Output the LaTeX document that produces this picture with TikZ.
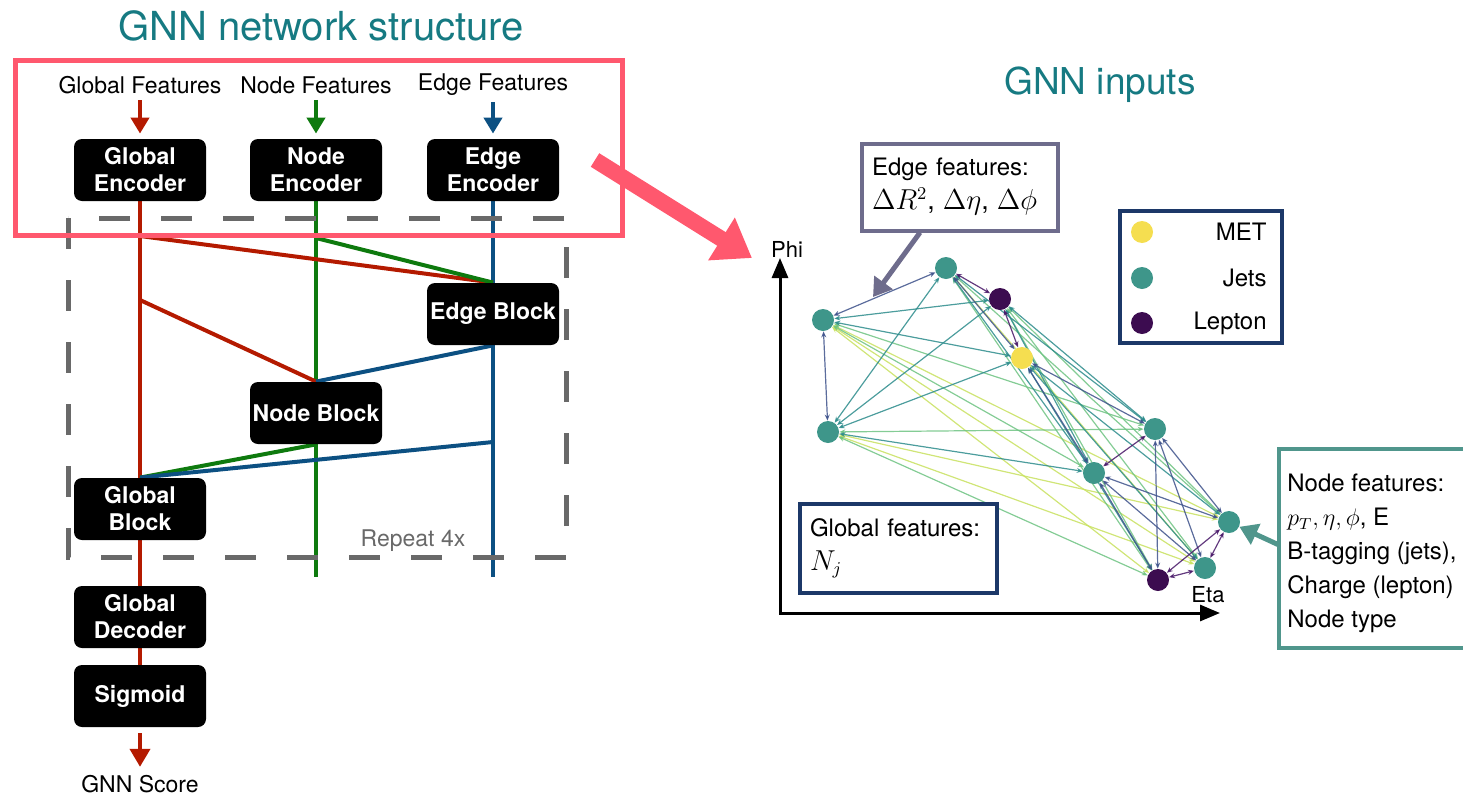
\documentclass[tikz,border=0pt]{standalone}
\usepackage{fontspec}
\setmainfont{TeX Gyre Heros}
\usetikzlibrary{arrows.meta,backgrounds}
\definecolor{ttlcol}{RGB}{22,122,130}
\definecolor{boxred}{RGB}{255,88,110}
\definecolor{lnred}{RGB}{180,26,0}
\definecolor{lngreen}{RGB}{14,122,14}
\definecolor{lnblue}{RGB}{12,80,130}
\definecolor{rptgray}{RGB}{105,105,105}
\definecolor{efcol}{RGB}{110,108,140}
\definecolor{navy}{RGB}{28,56,104}
\definecolor{nfcol}{RGB}{80,150,140}
\definecolor{metcol}{RGB}{245,222,80}
\definecolor{jetcol}{RGB}{62,150,138}
\definecolor{lepcol}{RGB}{60,12,80}
\definecolor{ec1}{RGB}{72,24,104}
\definecolor{ec2}{RGB}{62,82,139}
\definecolor{ec3}{RGB}{45,140,140}
\definecolor{ec4}{RGB}{110,195,130}
\definecolor{ec5}{RGB}{200,225,95}
\tikzset{
  blk/.style={fill=black, rounded corners=4pt, minimum width=66pt, minimum height=31pt, inner sep=0pt, text=white, align=center, font=\fontsize{11.5}{13.5}\selectfont\bfseries},
  feat/.style={font=\fontsize{11.5}{14}\selectfont, inner sep=0pt},
  ttl/.style={text=ttlcol, font=\fontsize{20}{24}\selectfont, inner sep=0pt},
  rtxt/.style={font=\fontsize{12}{17}\selectfont, inner sep=0pt},
  redln/.style={lnred, line width=2pt},
  greenln/.style={lngreen, line width=2pt},
  blueln/.style={lnblue, line width=2pt},
  fin/.style={-{Triangle[length=8pt,width=9pt]}, shorten <=3pt, shorten >=2.5pt},
  jet/.style={circle, fill=jetcol, minimum size=11pt, inner sep=0pt},
  met/.style={circle, fill=metcol, minimum size=11pt, inner sep=0pt},
  lep/.style={circle, fill=lepcol, minimum size=11pt, inner sep=0pt},
  ge/.style={line width=0.6pt, opacity=0.85, {Stealth[length=3pt,width=2.5pt]}-{Stealth[length=3pt,width=2.5pt]}},
  thick arrow/.style={line width=2.5pt, -{Triangle[length=9pt,width=11pt]}}
}
\begin{document}
\begin{tikzpicture}[x=0.5pt,y=-0.5pt]
\useasboundingbox (0,0) rectangle (1463,798);

\node[ttl] (ttlL) at (321,26) {GNN network structure};
\node[ttl, font=\fontsize{18.5}{22}\selectfont] (ttlR) at (1100,85) {GNN inputs};

\node[feat] (gf) at (140,85) {Global Features};
\node[feat] (nf) at (316,85) {Node Features};
\node[feat] (ef) at (493,85) {Edge Features};

\node[blk] (genc) at (140,170) {Global\\Encoder};
\node[blk] (nenc) at (316,170) {Node\\Encoder};
\node[blk] (eenc) at (493,170) {Edge\\Encoder};
\node[blk] (eblk) at (493,314) {Edge Block};
\node[blk] (nblk) at (316,413) {Node Block};
\node[blk] (gblk) at (140,509) {Global\\Block};
\node[blk] (gdec) at (140,617) {Global\\Decoder};
\node[blk] (sig) at (140,696) {Sigmoid};
\node[feat] (score) at (140,784) {GNN Score};
\node[feat, text=rptgray] (rpt) at (413,541) {Repeat 4x};

\coordinate (r1) at (140,236);
\coordinate (r2) at (140,300);
\coordinate (g1) at (316,238);
\coordinate (b1) at (493,442);
\coordinate (gbot) at (316,577);
\coordinate (bbot) at (493,577);

\draw[redln, fin] (gf) -- (genc);
\draw[greenln, fin] (nf) -- (nenc);
\draw[blueln, fin] (ef) -- (eenc);

\begin{pgfonlayer}{background}
\draw[redln] (genc) -- (gblk);
\draw[redln] (gblk) -- (gdec);
\draw[redln] (gdec) -- (sig);
\draw[greenln] (nenc) -- (gbot);
\draw[blueln] (eenc) -- (bbot);
\draw[redln] (r1) -- (eblk.north);
\draw[greenln] (g1) -- (eblk.north);
\draw[redln] (r2) -- (nblk.north);
\draw[blueln] (eblk.south) -- (nblk.north);
\draw[greenln] (nblk.south) -- (gblk.north);
\draw[blueln] (b1) -- (gblk.north);
\end{pgfonlayer}
\draw[redln, -{Triangle[length=9pt,width=10pt]}, shorten <=3pt, shorten >=4pt] (sig) -- (score);

\draw[rptgray, line width=2.5pt, dash pattern=on 15.5pt off 15.5pt] (68,218) rectangle (566,557);
\draw[boxred, line width=2.5pt] (15,60) rectangle (622,235);

\coordinate (pa1) at (595,160);
\coordinate (pa2) at (752,258);
\draw[boxred, line width=8pt, -{Triangle[length=18pt,width=24pt]}] (pa1) -- (pa2);

% inputs graph
\coordinate (ytip) at (780,258);
\coordinate (xtip) at (1220,613);
\draw[line width=1.5pt, {Triangle[length=10pt,width=8pt]}-{Triangle[length=10pt,width=8pt]}] (ytip) |- (xtip);
\node[rtxt, font=\fontsize{11}{13}\selectfont] (phi) at (787,249) {Phi};
\node[rtxt, font=\fontsize{11}{13}\selectfont] (eta) at (1208,595) {Eta};

\node[jet] (A) at (823,320) {};
\node[jet] (B) at (946,268) {};
\node[lep] (C) at (1000,299) {};
\node[met] (D) at (1022,358) {};
\node[jet] (E) at (828,432) {};
\node[jet] (F) at (1155,429) {};
\node[jet] (G) at (1094,473) {};
\node[jet] (H) at (1229,522) {};
\node[lep] (I) at (1158,580) {};
\node[jet] (J) at (1205,568) {};

\begin{pgfonlayer}{background}
\foreach \a/\b in {A/H,A/I,A/J,B/J,E/H,E/J}
  \draw[ge,ec5] (\a) -- (\b);
\foreach \a/\b in {A/F,A/G,B/H,B/I,C/H,C/I,C/J,E/F,E/I}
  \draw[ge,ec4] (\a) -- (\b);
\foreach \a/\b in {A/C,A/D,B/E,B/F,B/G,C/E,C/F,C/G,D/E,D/H,D/I,D/J,E/G}
  \draw[ge,ec3] (\a) -- (\b);
\foreach \a/\b in {A/B,A/E,B/D,D/F,D/G,F/H,F/I,F/J,G/H,G/I,G/J}
  \draw[ge,ec2] (\a) -- (\b);
\foreach \a/\b in {B/C,C/D,F/G,H/I,H/J,I/J}
  \draw[ge,ec1] (\a) -- (\b);
\end{pgfonlayer}

\node[draw=efcol, line width=2pt, fill=white, minimum width=98pt, minimum height=43.5pt, text width=88pt, align=left, rtxt] (efb) at (960,187)
  {Edge features:\\{\fontsize{13.5}{17}\selectfont$\Delta R^2$, $\Delta\eta$, $\Delta\phi$}};
\coordinate (eftip) at (873,297);
\draw[efcol, thick arrow] ([xshift=-20pt]efb.south) -- (eftip);

\node[draw=navy, line width=2pt, fill=white, minimum width=98.5pt, minimum height=44.5pt, text width=88pt, align=left, rtxt] (gfb) at (898,548)
  {Global features:\\{\fontsize{13.5}{17}\selectfont$N_j$}};

\draw[navy, line width=2pt] (1120,211) rectangle (1282,343);
\node[met] (lmet) at (1142,232) {};
\node[jet] (ljet) at (1142,278) {};
\node[lep] (llep) at (1142,323) {};
\node[rtxt, anchor=east] (tmet) at (1267,232) {MET};
\node[rtxt, anchor=east] (tjet) at (1267,278) {Jets};
\node[rtxt, anchor=east] (tlep) at (1267,323) {Lepton};

\draw[nfcol, line width=2pt] (1470,449) -- (1279,449) -- (1279,648) -- (1470,648);
\node[rtxt, anchor=north west, align=left] (nft) at (1287,474)
  {Node features:\\$p_T, \eta, \phi$, E\\B-tagging (jets),\\Charge (lepton)\\Node type};
\coordinate (nfl) at (1279,545);
\draw[nfcol, thick arrow] (nfl) -- (H);
\end{tikzpicture}
\end{document}
